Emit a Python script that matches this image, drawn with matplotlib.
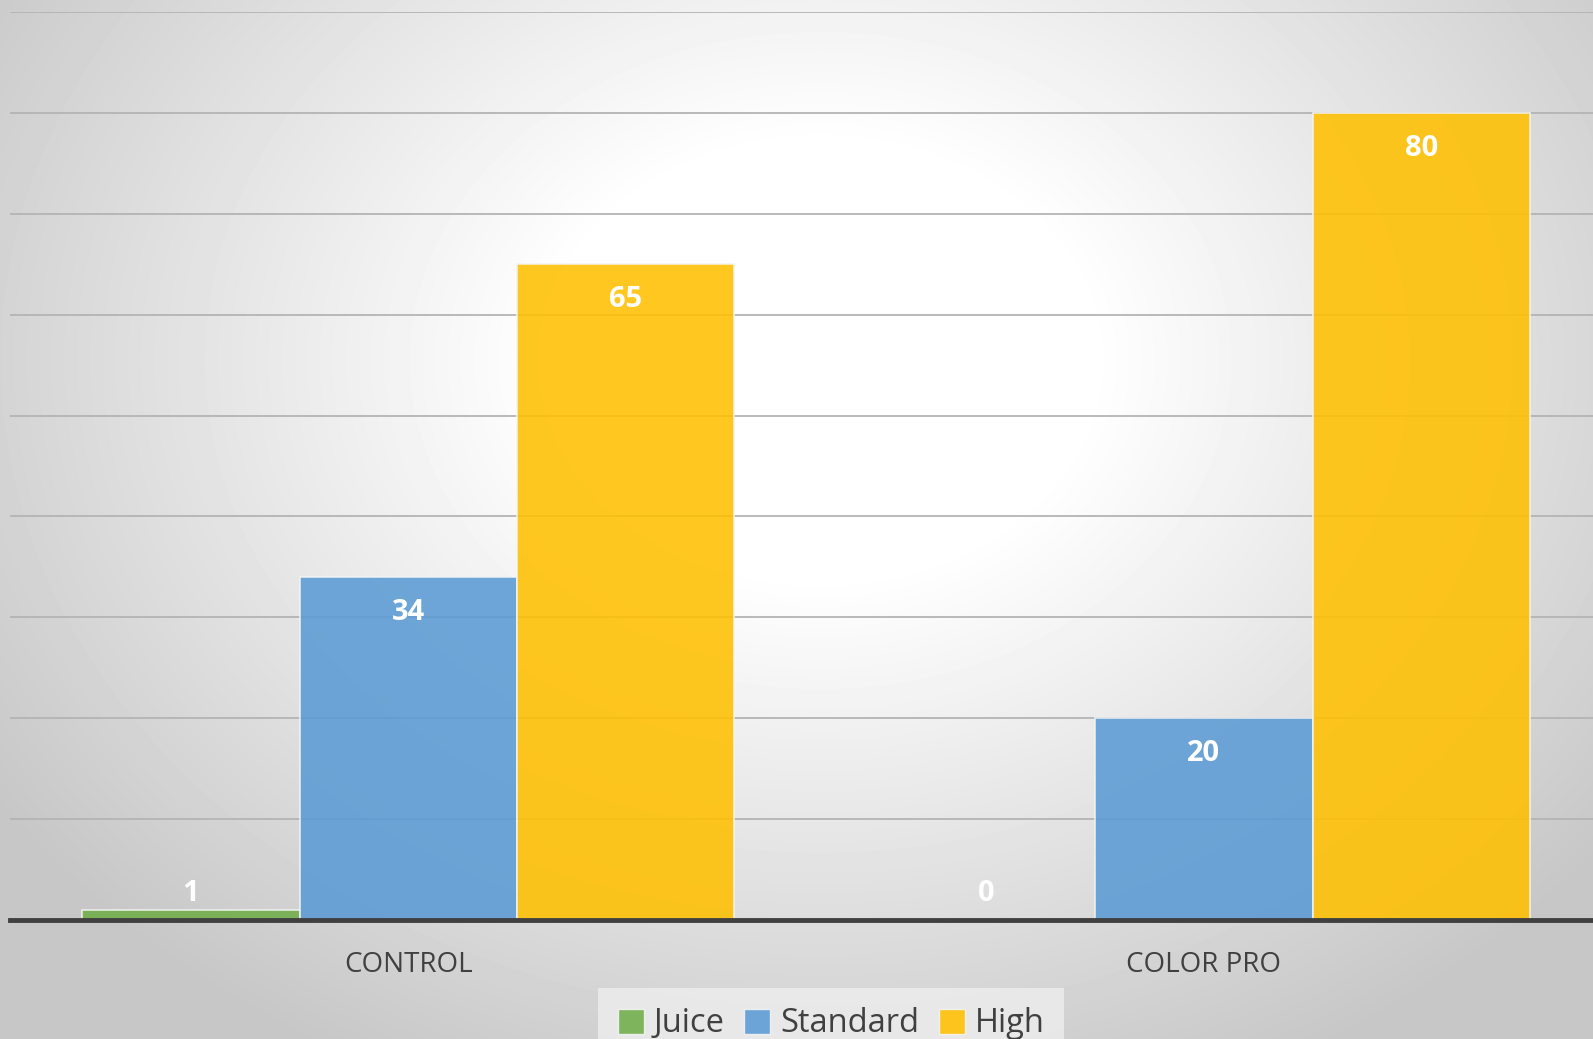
import numpy as np
import matplotlib.pyplot as plt
from matplotlib.patches import Patch

categories = ["CONTROL", "COLOR PRO"]
series_names = ["Juice", "Standard", "High"]
juice = [1, 0]
standard = [34, 20]
high = [65, 80]
colors = ["#70AD47", "#5B9BD5", "#FFC000"]

plt.rcParams['font.family'] = ['Open Sans', 'DejaVu Sans']

W, H = 1593, 1039
fig = plt.figure(figsize=(W / 100, H / 100), dpi=100)

# radial gradient background
bg = fig.add_axes([0, 0, 1, 1], zorder=0)
yy, xx = np.mgrid[0:H, 0:W]
r = np.sqrt(((xx - 820) / 900.0) ** 2 + ((yy - 360) / 720.0) ** 2)
shade = np.clip(1.0 - 0.22 * np.clip(r - 0.3, 0, None) / 0.8, 0.78, 1.0)
bg.imshow(shade, cmap='gray', vmin=0, vmax=1, aspect='auto', extent=[0, W, H, 0])
bg.axis('off')

ax = fig.add_axes([10 / W, (H - 920) / H, (W - 10) / W, (920 - 12) / H], zorder=1)
ax.patch.set_alpha(0)

x = np.arange(len(categories))
w = 0.2733
data = [juice, standard, high]
for i, (vals, c) in enumerate(zip(data, colors)):
    pos = x + (i - 1) * w
    ax.bar(pos, vals, width=w, color=c, alpha=0.88, edgecolor='#f4f4f4', linewidth=1.2, zorder=3)
    for px, v in zip(pos, vals):
        ax.text(px, max(v - 3.5, 2.6), str(v), ha='center', va='center', color='white',
                fontsize=21, fontweight='bold', zorder=4)

ax.set_xlim(-0.5006, 1.489)
ax.set_ylim(0, 90)
ax.set_yticks(np.arange(10, 100, 10))
ax.yaxis.grid(True, color='#b4b4b4', linewidth=1.3, zorder=1)
ax.tick_params(axis='both', length=0)
ax.set_yticklabels([])
ax.set_xticks(x)
ax.set_xticklabels(categories, fontsize=20, color='#404040')
ax.tick_params(axis='x', pad=22)
for s in ['top', 'right', 'left']:
    ax.spines[s].set_visible(False)
ax.spines['bottom'].set_color('#404040')
ax.spines['bottom'].set_linewidth(3.5)
ax.spines['bottom'].set_zorder(5)

handles = [Patch(facecolor=c, edgecolor='#f4f4f4', alpha=0.88) for c in colors]
leg = fig.legend(handles, series_names, loc='center', bbox_to_anchor=(831 / W, 1 - 1024 / H),
                 ncol=3, fontsize=23.5, frameon=True, fancybox=False, handlelength=0.8,
                 handleheight=0.8, handletextpad=0.3, columnspacing=0.6, borderpad=0.6)
leg.get_frame().set_facecolor('#eeeeee')
leg.get_frame().set_edgecolor('none')
for t in leg.get_texts():
    t.set_color('#404040')

fig.savefig('out.png', dpi=100)
